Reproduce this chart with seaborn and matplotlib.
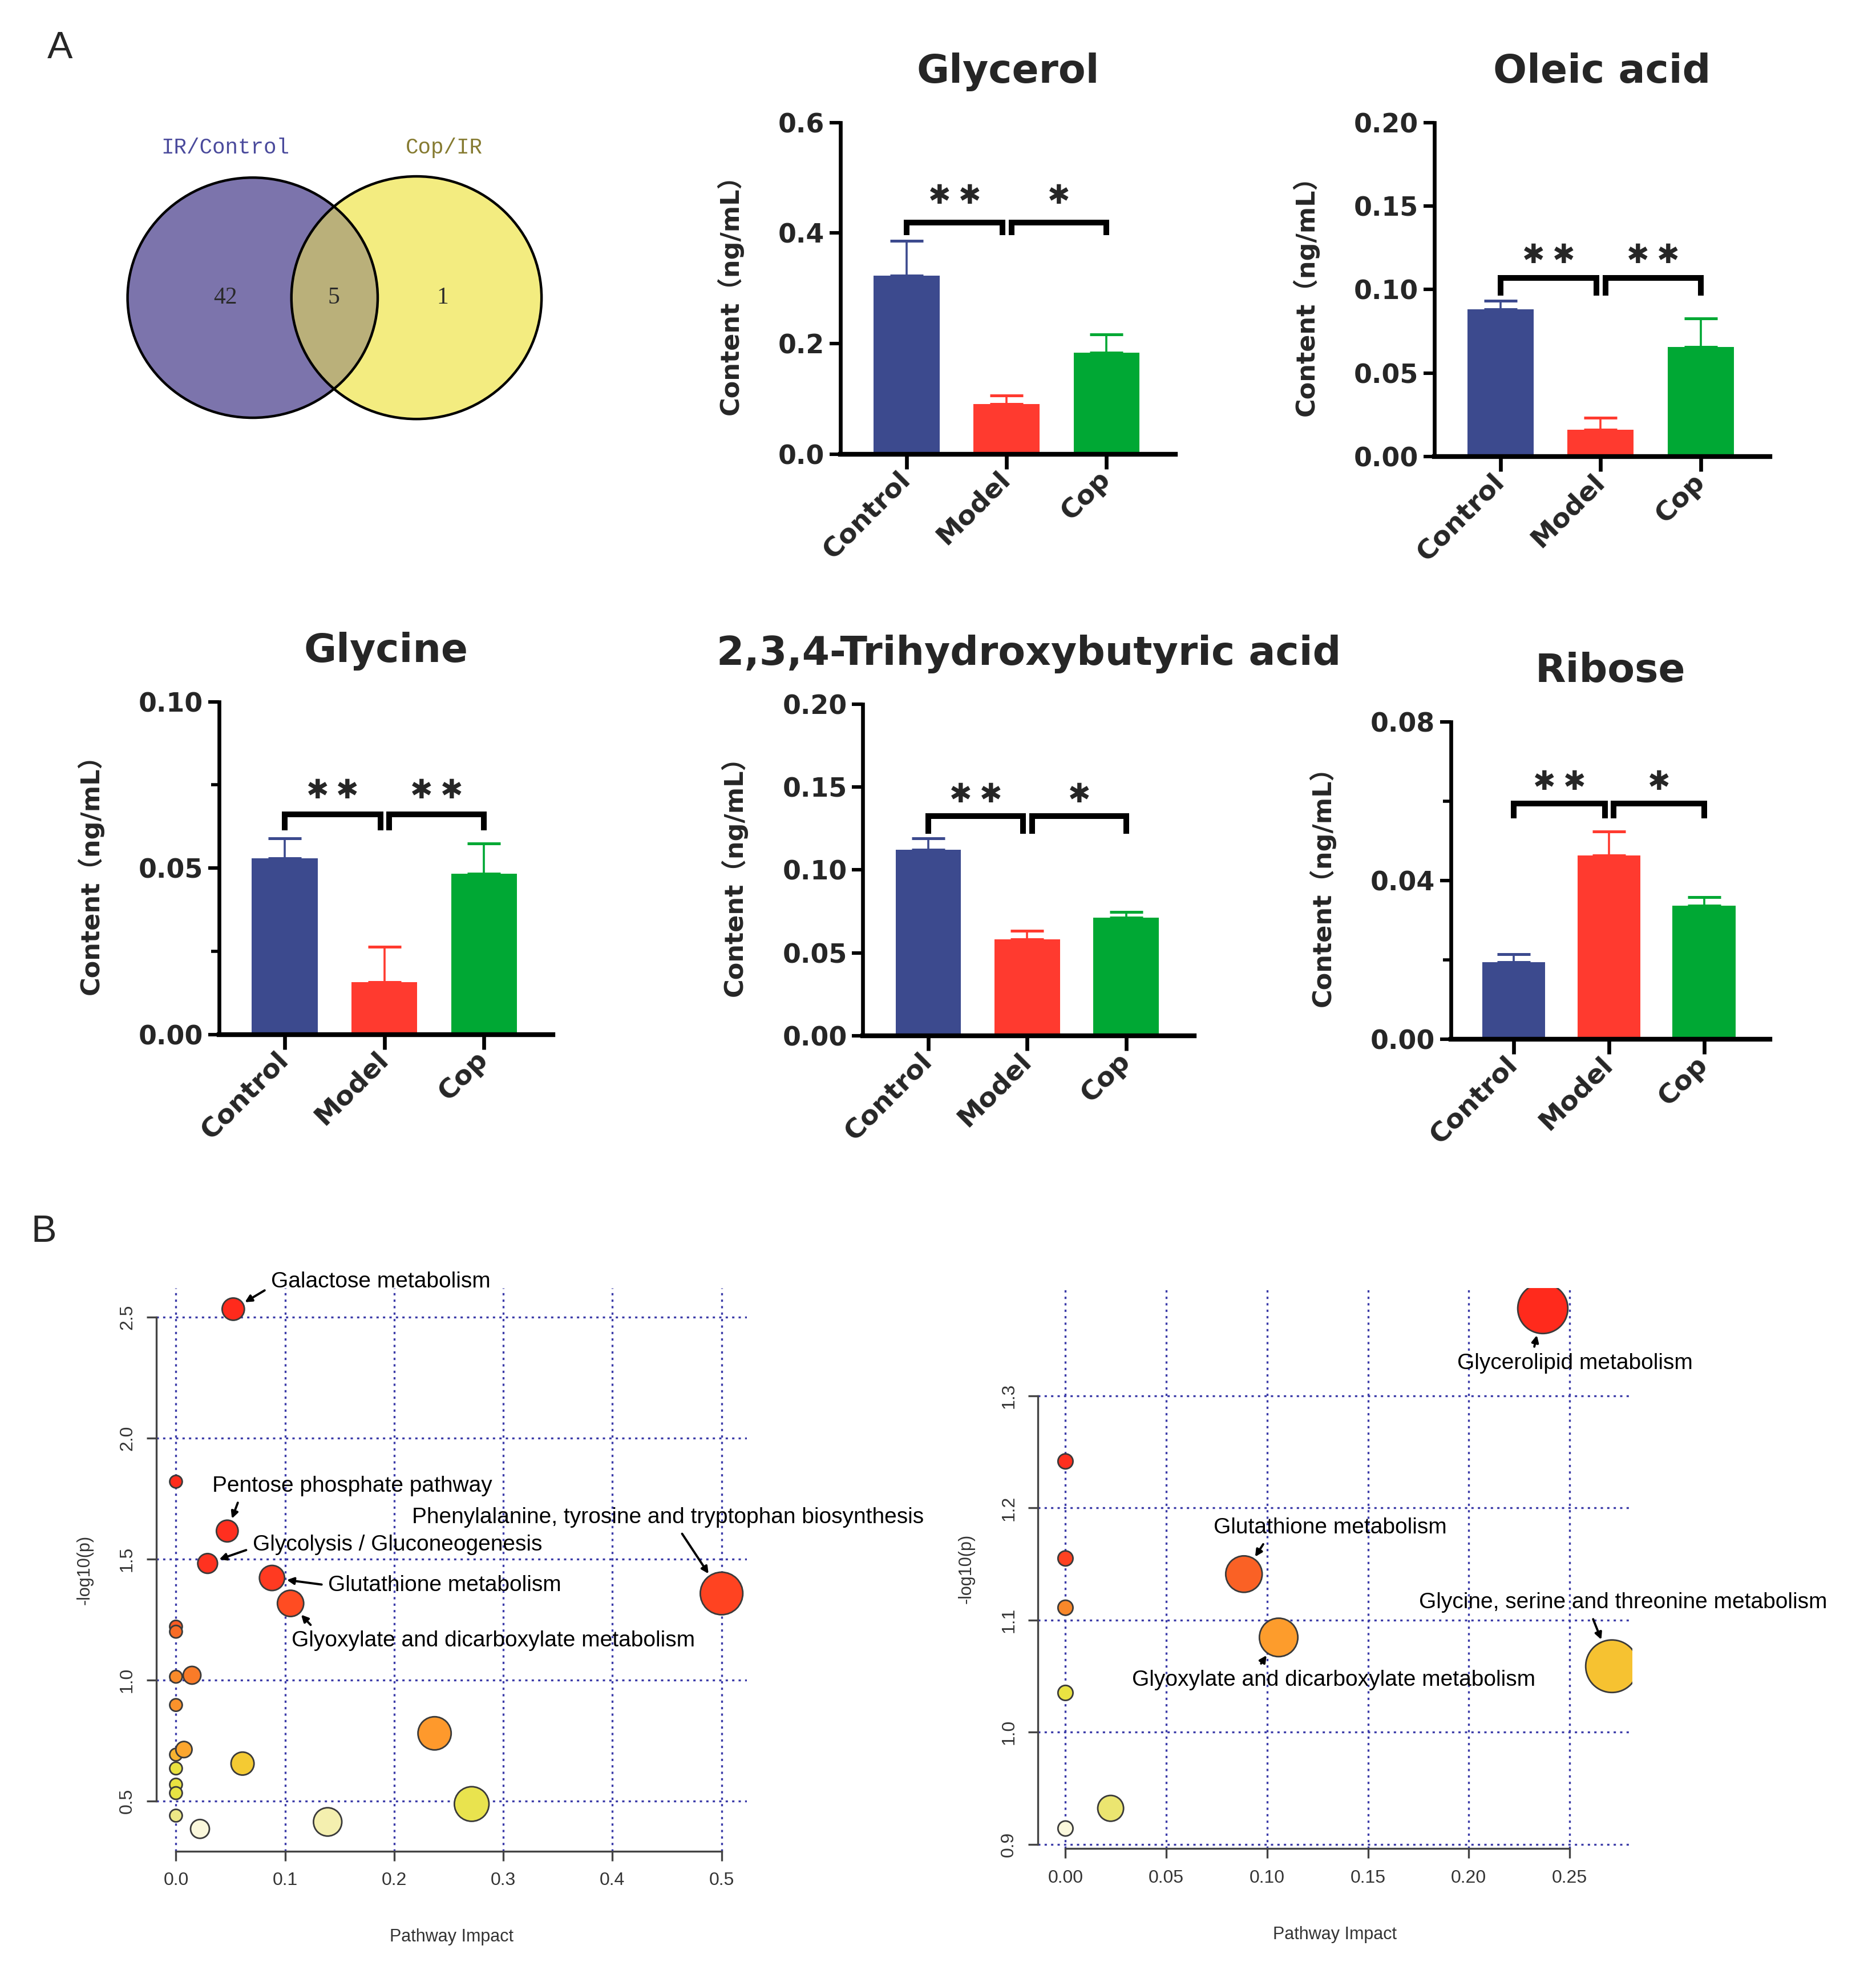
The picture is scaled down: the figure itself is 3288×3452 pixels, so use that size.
import numpy as np
import pandas as pd
import matplotlib
matplotlib.use("Agg")
import matplotlib.pyplot as plt
import matplotlib.transforms as mtransforms
import seaborn as sns
from matplotlib.patches import Ellipse
from matplotlib.colors import LinearSegmentedColormap

# ---------------- data ----------------
groups = ["Control", "Model", "Cop"]

venn_labels = ["IR/Control", "Cop/IR"]
venn_counts = [42, 5, 1]

glycerol_mean = [0.323, 0.091, 0.183]
glycerol_sem = [0.063, 0.015, 0.034]
oleic_mean = [0.0882, 0.0159, 0.0655]
oleic_sem = [0.0052, 0.0072, 0.0172]
glycine_mean = [0.0529, 0.0157, 0.0483]
glycine_sem = [0.0061, 0.0106, 0.0091]
thb_mean = [0.1122, 0.0581, 0.0712]
thb_sem = [0.0068, 0.0052, 0.0035]
ribose_mean = [0.0194, 0.0463, 0.0337]
ribose_sem = [0.0020, 0.0060, 0.0022]

glycerol_ticks = [0.0, 0.2, 0.4, 0.6]
glycerol_ticklabels = ["0.0", "0.2", "0.4", "0.6"]
oleic_ticks = [0.0, 0.05, 0.10, 0.15, 0.20]
oleic_ticklabels = ["0.00", "0.05", "0.10", "0.15", "0.20"]
glycine_ticks = [0.0, 0.05, 0.10]
glycine_ticklabels = ["0.00", "0.05", "0.10"]
glycine_minor = [0.025, 0.075]
thb_ticks = [0.0, 0.05, 0.10, 0.15, 0.20]
thb_ticklabels = ["0.00", "0.05", "0.10", "0.15", "0.20"]
ribose_ticks = [0.0, 0.04, 0.08]
ribose_ticklabels = ["0.00", "0.04", "0.08"]
ribose_minor = [0.02, 0.06]

glycerol_sig = ["**", "*"]
oleic_sig = ["**", "**"]
glycine_sig = ["**", "**"]
thb_sig = ["**", "*"]
ribose_sig = ["**", "*"]

# pathway analysis 1 (IR vs Control)
p1_impact = [0.0525, 0.0, 0.047, 0.029, 0.088, 0.105, 0.5, 0.0, 0.0, 0.0, 0.0147,
             0.0, 0.237, 0.0073, 0.0, 0.0, 0.061, 0.0, 0.0, 0.271, 0.0, 0.022, 0.139]
p1_logp = [2.533, 1.82, 1.616, 1.482, 1.422, 1.317, 1.358, 1.221, 1.20, 1.014, 1.02,
           0.897, 0.78, 0.713, 0.692, 0.635, 0.655, 0.568, 0.533, 0.488, 0.44, 0.385, 0.414]
p1_names = ["Galactose metabolism", "", "Pentose phosphate pathway",
            "Glycolysis / Gluconeogenesis", "Glutathione metabolism",
            "Glyoxylate and dicarboxylate metabolism",
            "Phenylalanine, tyrosine and tryptophan biosynthesis"] + [""] * 16
p1_xticks = [0.0, 0.1, 0.2, 0.3, 0.4, 0.5]
p1_xticklabels = ["0.0", "0.1", "0.2", "0.3", "0.4", "0.5"]
p1_yticks = [0.5, 1.0, 1.5, 2.0, 2.5]
p1_yticklabels = ["0.5", "1.0", "1.5", "2.0", "2.5"]

# pathway analysis 2 (Cop vs IR)
p2_impact = [0.2367, 0.0, 0.0, 0.0, 0.0885, 0.1057, 0.271, 0.0, 0.0224, 0.0]
p2_logp = [1.378, 1.2416, 1.155, 1.111, 1.141, 1.0845, 1.0588, 1.035, 0.932, 0.914]
p2_names = ["Glycerolipid metabolism", "", "", "", "Glutathione metabolism",
            "Glyoxylate and dicarboxylate metabolism",
            "Glycine, serine and threonine metabolism", "", "", ""]
p2_xticks = [0.0, 0.05, 0.10, 0.15, 0.20, 0.25]
p2_xticklabels = ["0.00", "0.05", "0.10", "0.15", "0.20", "0.25"]
p2_yticks = [0.9, 1.0, 1.1, 1.2, 1.3]
p2_yticklabels = ["0.9", "1.0", "1.1", "1.2", "1.3"]

# ---------------- style ----------------
sns.set_theme(style="white")
plt.rcParams["font.family"] = ["DejaVu Sans", "Noto Sans CJK SC"]
plt.rcParams["axes.unicode_minus"] = False

BAR_COLORS = {"Control": "#3C4A8E", "Model": "#FF3A2F", "Cop": "#00A834"}
BOLD = ["DejaVu Sans", "Noto Sans CJK SC"]
SANS = ["Liberation Sans", "DejaVu Sans"]

W_D, H_D = 1500.0, 1575.0   # reference layout units
PT = 0.789                  # layout unit -> points


def rect(l, t, r, b):
    return [l / W_D, 1 - b / H_D, (r - l) / W_D, (b - t) / H_D]


fig = plt.figure(figsize=(16.44, 17.26), dpi=200)
fig.patch.set_facecolor("white")

# ---------------- Venn ----------------
axv = fig.add_axes(rect(0, 0, 500, 400))
axv.set_xlim(0, 500)
axv.set_ylim(400, 0)
axv.axis("off")
e_left = Ellipse((202, 238), 200, 192, facecolor="#7C74AC", edgecolor="none", zorder=1)
e_right = Ellipse((333, 238), 200, 194, facecolor="#F3EC80", edgecolor="none", zorder=2)
axv.add_patch(e_left)
axv.add_patch(e_right)
e_ov = Ellipse((333, 238), 200, 194, facecolor="#BAB07A", edgecolor="none", zorder=3)
axv.add_patch(e_ov)
e_ov.set_clip_path(e_left)
for c, w, h in [((202, 238), 200, 192), ((333, 238), 200, 194)]:
    axv.add_patch(Ellipse(c, w, h, facecolor="none", edgecolor="black", lw=1.6, zorder=4))
axv.text(180, 118, venn_labels[0], color="#4A4A9C", fontsize=13.5, family="Liberation Mono",
         ha="center", va="center")
axv.text(355, 118, venn_labels[1], color="#857A30", fontsize=13.5, family="Liberation Mono",
         ha="center", va="center")
for xpos, cnt in zip([180, 267, 354], venn_counts):
    axv.text(xpos, 238, str(cnt), color="#2A2A2A", fontsize=15, family="Liberation Serif",
             ha="center", va="center", zorder=5)

fig.text(48 / W_D, 1 - 39 / H_D, "A", fontsize=24, family=SANS, ha="center", va="center")
fig.text(35 / W_D, 1 - 985 / H_D, "B", fontsize=24, family=SANS, ha="center", va="center")


# ---------------- bar panels ----------------
def bar_panel(box, title, means, sems, ticks, ticklabels, minor, sig, br_top, br_bot, star_y):
    ax = fig.add_axes(rect(*box))
    df = pd.DataFrame({"group": groups, "value": means})
    sns.barplot(data=df, x="group", y="value", hue="group", palette=BAR_COLORS,
                width=0.66, saturation=1, legend=False, ax=ax, edgecolor="none",
                linewidth=0, errorbar=None)
    for i, g in enumerate(groups):
        ax.errorbar(i, means[i], yerr=[[0], [sems[i]]], fmt="none", ecolor=BAR_COLORS[g],
                    elinewidth=1.3, capsize=10.5, capthick=1.8, zorder=0.9)
    ax.set_xlim(-0.66, 2.69)
    ax.set_ylim(0, ticks[-1])
    ax.set_yticks(ticks, ticklabels, fontweight="bold", fontsize=16.5, family=BOLD)
    if minor:
        ax.set_yticks(minor, minor=True)
    ax.set_xticks(range(3))
    ax.set_xticklabels(groups, rotation=45, ha="right", va="center", rotation_mode="anchor",
                       fontweight="bold", fontsize=17, family=BOLD)
    off = mtransforms.ScaledTranslation(13 / 72, -9 / 72, fig.dpi_scale_trans)
    for lab in ax.get_xticklabels():
        lab.set_transform(lab.get_transform() + off)
    for s in ["top", "right"]:
        ax.spines[s].set_visible(False)
    ax.spines["left"].set_linewidth(2.4)
    ax.spines["bottom"].set_linewidth(3.0)
    ax.spines["left"].set_color("black")
    ax.spines["bottom"].set_color("black")
    ax.tick_params(axis="y", which="major", direction="out", length=7, width=2.2,
                   color="black", pad=3, left=True)
    ax.tick_params(axis="y", which="minor", direction="out", length=5, width=2.0,
                   color="black", left=True)
    ax.tick_params(axis="x", direction="out", length=9.5, width=2.4, color="black",
                   pad=4, bottom=True)
    ax.set_xlabel("")
    ax.set_ylabel("Content（ng/mL）", fontweight="bold", fontsize=16, family=BOLD, labelpad=22)
    ax.set_title(title, fontweight="bold", fontsize=25, family=BOLD, pad=25)
    # significance brackets
    spans = [(0.0, 0.96), (1.05, 2.0)]
    for (x0, x1), s in zip(spans, sig):
        ax.plot([x0, x0, x1, x1], [br_bot, br_top, br_top, br_bot], color="black", lw=3.6,
                solid_joinstyle="miter", solid_capstyle="butt", zorder=5)
        cx = (x0 + x1) / 2
        n = len(s)
        for k in range(n):
            dx = (k - (n - 1) / 2) * 19
            ax.annotate("\u2731", xy=(cx, star_y), xytext=(dx, 0), textcoords="offset points",
                        ha="center", va="center", fontsize=17, family=BOLD,
                        annotation_clip=False)
    return ax


bar_panel((672, 98, 940, 363), "Glycerol", glycerol_mean, glycerol_sem, glycerol_ticks,
          glycerol_ticklabels, None, glycerol_sig, 0.419, 0.396, 0.466)
bar_panel((1147, 98, 1415, 365), "Oleic acid", oleic_mean, oleic_sem, oleic_ticks,
          oleic_ticklabels, None, oleic_sig, 0.107, 0.0965, 0.120)
bar_panel((175, 561, 442, 827), "Glycine", glycine_mean, glycine_sem, glycine_ticks,
          glycine_ticklabels, glycine_minor, glycine_sig, 0.0662, 0.0613, 0.073)
bar_panel((690, 563, 955, 828), "2,3,4-Trihydroxybutyric acid", thb_mean, thb_sem, thb_ticks,
          thb_ticklabels, None, thb_sig, 0.1325, 0.1218, 0.145)
bar_panel((1160, 577, 1415, 831), "Ribose", ribose_mean, ribose_sem, ribose_ticks,
          ribose_ticklabels, ribose_minor, ribose_sig, 0.0594, 0.0556, 0.0646)

# ---------------- pathway bubble plots ----------------
heat = LinearSegmentedColormap.from_list(
    "heat", [(0.0, "#FBF8DC"), (0.05, "#F3EEA8"), (0.10, "#ECE67E"), (0.14, "#E8E344"),
             (0.27, "#E9E240"), (0.32, "#F5C932"), (0.37, "#F8B030"), (0.45, "#FE9A2C"),
             (0.55, "#F98A2A"), (0.64, "#F86A26"), (0.73, "#FF4C22"), (0.86, "#FF3220"),
             (1.0, "#FF2A1C")])

# label text offset (points), alignment and arrow start on text box (relpos), per pathway
ann1 = {
    "Galactose metabolism": ((23.7, 17.4), "left", (0.0, 0.25)),
    "Pentose phosphate pathway": ((-9.5, 28.4), "left", (0.1, 0.0)),
    "Glycolysis / Gluconeogenesis": ((28.4, 11.8), "left", (0.0, 0.35)),
    "Glutathione metabolism": ((35.5, -4.7), "left", (0.0, 0.5)),
    "Glyoxylate and dicarboxylate metabolism": ((0.8, -23.7), "left", (0.06, 1.0)),
    "Phenylalanine, tyrosine and tryptophan biosynthesis": ((-33.9, 48.0), "center", (0.52, 0.0)),
}
ann2 = {
    "Glycerolipid metabolism": ((20.5, -34.7), "center", (0.32, 1.0)),
    "Glutathione metabolism": ((54.4, 29.2), "center", (0.23, 0.0)),
    "Glyoxylate and dicarboxylate metabolism": ((34.7, -26.8), "center", (0.31, 1.0)),
    "Glycine, serine and threonine metabolism": ((7.1, 40.2), "center", (0.42, 0.0)),
}


def bubble_panel(box, impact, logp, names, xlim, ylim, xticks, xtl, yticks, ytl,
                 rmin, rk, ann):
    ax = fig.add_axes(rect(*box))
    df = pd.DataFrame({"impact": impact, "logp": logp, "name": names})
    df["rank"] = df["logp"].rank(method="first")
    df["rank"] = (df["rank"] - 1) / (len(df) - 1)
    imax = max(impact)
    radius = {v: rmin + rk * np.sqrt(v / imax) for v in sorted(set(impact))}
    sizes = {v: (2 * r * PT) ** 2 for v, r in radius.items()}
    df = df.sort_values("impact")
    sns.scatterplot(data=df, x="impact", y="logp", hue="rank", palette=heat,
                    hue_norm=(0, 1), size="impact", sizes=sizes, legend=False,
                    edgecolor="#3A3A3A", linewidth=1.0, alpha=1, zorder=3, ax=ax)
    ax.set_xlim(*xlim)
    ax.set_ylim(*ylim)
    ax.grid(True, color="#3B3BA8", linestyle=(0, (1.2, 2.2)), linewidth=1.2, zorder=0)
    ax.set_axisbelow(True)
    ax.set_xticks(xticks, xtl, fontsize=11.5, family=SANS, color="#333333")
    ax.set_yticks(yticks, ytl, fontsize=11.5, family=SANS, color="#333333",
                  rotation=90, va="center")
    for s in ["top", "right"]:
        ax.spines[s].set_visible(False)
    ax.spines["left"].set_bounds(yticks[0], yticks[-1])
    ax.spines["bottom"].set_bounds(xticks[0], xticks[-1])
    for s in ["left", "bottom"]:
        ax.spines[s].set_color("#444444")
        ax.spines[s].set_linewidth(1.2)
    ax.tick_params(direction="out", length=6, width=1.2, color="#444444", pad=7,
                   left=True, bottom=True)
    ax.set_xlabel("Pathway Impact", fontsize=11, family=SANS, color="#333333", labelpad=25)
    ax.set_ylabel("-log10(p)", fontsize=11, family=SANS, color="#333333", labelpad=16)
    for _, row in df.iterrows():
        if row["name"] in ann:
            (dx, dy), ha, rel = ann[row["name"]]
            r_pt = radius[row["impact"]] * PT
            ax.annotate(row["name"], xy=(row["impact"], row["logp"]), xytext=(dx, dy),
                        textcoords="offset points", ha=ha, va="center", fontsize=14,
                        family=SANS, color="black", annotation_clip=False, zorder=6,
                        arrowprops=dict(arrowstyle="-|>", color="black", lw=1.4,
                                        mutation_scale=9, shrinkA=2, shrinkB=r_pt + 1.5,
                                        relpos=rel))
    return ax


bubble_panel((125, 1030, 597, 1480), p1_impact, p1_logp, p1_names, (-0.018, 0.523),
             (0.293, 2.619), p1_xticks, p1_xticklabels, p1_yticks, p1_yticklabels,
             5.0, 12.0, ann1)
bubble_panel((830, 1030, 1305, 1478), p2_impact, p2_logp, p2_names, (-0.0136, 0.281),
             (0.896, 1.396), p2_xticks, p2_xticklabels, p2_yticks, p2_yticklabels,
             6.0, 15.0, ann2)

fig.savefig("out.png", dpi=200, facecolor="white")
